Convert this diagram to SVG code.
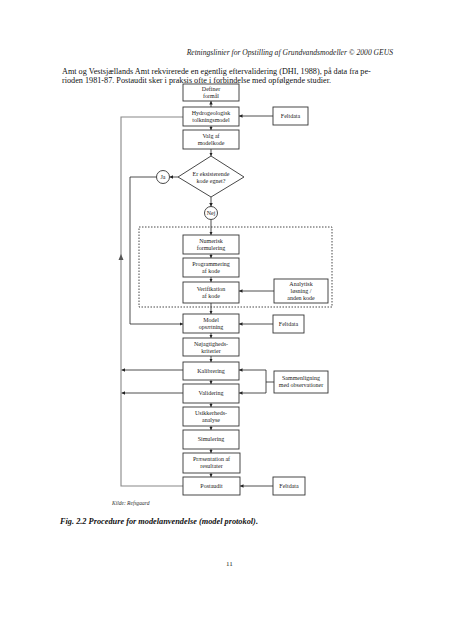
<svg xmlns="http://www.w3.org/2000/svg" width="452" height="640" viewBox="0 0 452 640">
<defs>
<marker id="ah" viewBox="0 0 6 6" refX="6" refY="3" markerWidth="3.5" markerHeight="3.5" orient="auto" markerUnits="userSpaceOnUse">
<path d="M0,0 L6,3 L0,6 z" fill="#222"/>
</marker>
<style>
.b{fill:#fff;stroke:#333;stroke-width:0.9}
.t{font-family:"Liberation Serif","Times New Roman",serif;font-size:6px;fill:#222;text-anchor:middle}
.c{fill:none;stroke:#222;stroke-width:0.8}
.a{marker-end:url(#ah)}
.g{fill:none;stroke:#888;stroke-width:1.1}
</style>
</defs>
<rect width="452" height="640" fill="#fff"/>
<text x="393" y="55" font-family="Liberation Serif, serif" font-style="italic" font-size="7.6" text-anchor="end" fill="#222">Retningslinier for Opstilling af Grundvandsmodeller © 2000 GEUS</text>
<text x="62" y="74" font-family="Liberation Serif, serif" font-size="8.2" fill="#111">Amt og Vestsjællands Amt rekvirerede en egentlig eftervalidering (DHI, 1988), på data fra pe-</text>
<text x="62" y="83" font-family="Liberation Serif, serif" font-size="8.2" fill="#111">rioden 1981-87. Postaudit sker i praksis ofte i forbindelse med opfølgende studier.</text>

<g id="connectors">
<path class="g" d="M183,486 H121 V117 H183"/>
<path d="M118.5,260 L121,254 L123.5,260 z" fill="#555"/>
<path class="c a" d="M211,107 V101"/>
<path class="c a" d="M211,126 V130"/>
<path class="c a" d="M211,149 V156"/>
<path class="c a" d="M273,116 H239"/>
<path class="c a" d="M178,177 H169.5"/>
<path class="c a" d="M156.5,177 H130 V324 H183"/>
<path class="c a" d="M211,197 V206.5"/>
<path class="c a" d="M211,219.5 V235"/>
<path class="c a" d="M211,254 V258"/>
<path class="c a" d="M211,277 V282"/>
<path class="c a" d="M211,303 V314"/>
<path class="c a" d="M274,291 H239"/>
<path class="c a" d="M273,324 H239"/>
<path class="c a" d="M211,333 V338"/>
<path class="c a" d="M211,356 V362"/>
<path class="c a" d="M211,380 V384"/>
<path class="c a" d="M211,403 V407"/>
<path class="c a" d="M211,426 V430"/>
<path class="c a" d="M211,449 V453"/>
<path class="c a" d="M211,473 V477"/>
<path class="c" d="M274,382 H266 M266,370 V393"/>
<path class="c a" d="M266,370 H239"/>
<path class="c a" d="M266,393 H239"/>
<path class="c a" d="M183,370 H121.5"/>
<path class="c a" d="M183,393 H121.5"/>
<path class="c a" d="M273,486 H240"/>
</g>

<rect x="139" y="227" width="193" height="80" fill="none" stroke="#333" stroke-width="0.9" stroke-dasharray="1.5,1.5"/>

<g id="definer"><rect class="b" x="183" y="84" width="56" height="17"/><text class="t" x="211" y="91">Definer</text><text class="t" x="211" y="98">formål</text></g>
<g id="hydro"><rect class="b" x="183" y="107" width="56" height="19"/><text class="t" x="211" y="115">Hydrogeologisk</text><text class="t" x="211" y="122">tolkningsmodel</text></g>
<g id="feltdata1"><rect class="b" x="273" y="107" width="35" height="18"/><text class="t" x="290.5" y="118">Feltdata</text></g>
<g id="valg"><rect class="b" x="183" y="130" width="56" height="19"/><text class="t" x="211" y="138">Valg af</text><text class="t" x="211" y="145">modelkode</text></g>
<g id="diamond"><path class="b" d="M211,156 L244,177 L211,197 L178,177 z"/><text class="t" x="211" y="176">Er eksisterende</text><text class="t" x="211" y="183">kode egnet?</text></g>
<g id="ja"><circle class="b" cx="163" cy="177" r="6.5"/><text class="t" x="163" y="179">Ja</text></g>
<g id="nej"><circle class="b" cx="211" cy="213" r="6.5"/><text class="t" x="211" y="215">Nej</text></g>
<g id="numerisk"><rect class="b" x="183" y="235" width="56" height="19"/><text class="t" x="211" y="243">Numerisk</text><text class="t" x="211" y="250">formulering</text></g>
<g id="programmering"><rect class="b" x="183" y="258" width="56" height="19"/><text class="t" x="211" y="266">Programmering</text><text class="t" x="211" y="273">af kode</text></g>
<g id="verifikation"><rect class="b" x="183" y="282" width="56" height="21"/><text class="t" x="211" y="291">Verifikation</text><text class="t" x="211" y="298">af kode</text></g>
<g id="analytisk"><rect class="b" x="274" y="279" width="54" height="24"/><text class="t" x="301" y="286">Analytisk</text><text class="t" x="301" y="293">løsning /</text><text class="t" x="301" y="300">anden kode</text></g>
<g id="model"><rect class="b" x="183" y="314" width="56" height="19"/><text class="t" x="211" y="322">Model</text><text class="t" x="211" y="329">opsætning</text></g>
<g id="feltdata2"><rect class="b" x="273" y="315" width="31" height="18"/><text class="t" x="288.5" y="326">Feltdata</text></g>
<g id="noejagtighed"><rect class="b" x="183" y="338" width="56" height="18"/><text class="t" x="211" y="346">Nøjagtigheds-</text><text class="t" x="211" y="353">kriterier</text></g>
<g id="kalibrering"><rect class="b" x="183" y="362" width="56" height="18"/><text class="t" x="211" y="373">Kalibrering</text></g>
<g id="validering"><rect class="b" x="183" y="384" width="56" height="19"/><text class="t" x="211" y="395">Validering</text></g>
<g id="sammenligning"><rect class="b" x="274" y="371" width="54" height="22"/><text class="t" x="301" y="380">Sammenligning</text><text class="t" x="301" y="387">med observationer</text></g>
<g id="usikkerhed"><rect class="b" x="183" y="407" width="56" height="19"/><text class="t" x="211" y="415">Usikkerheds-</text><text class="t" x="211" y="422">analyse</text></g>
<g id="simulering"><rect class="b" x="183" y="430" width="56" height="19"/><text class="t" x="211" y="441">Simulering</text></g>
<g id="praesentation"><rect class="b" x="183" y="453" width="57" height="20"/><text class="t" x="211.5" y="461">Præsentation af</text><text class="t" x="211.5" y="468">resultater</text></g>
<g id="postaudit"><rect class="b" x="183" y="477" width="57" height="18"/><text class="t" x="211.5" y="488">Postaudit</text></g>
<g id="feltdata3"><rect class="b" x="273" y="477" width="32" height="18"/><text class="t" x="289" y="488">Feltdata</text></g>

<text x="112" y="505" font-family="Liberation Serif, serif" font-style="italic" font-size="5.5" fill="#333">Kilde: Refsgaard</text>
<text x="60" y="524" font-family="Liberation Serif, serif" font-style="italic" font-weight="bold" font-size="8.3" fill="#111">Fig. 2.2 Procedure for modelanvendelse (model protokol).</text>
<text x="226" y="566" font-family="Liberation Serif, serif" font-size="7" fill="#222">11</text>
</svg>
